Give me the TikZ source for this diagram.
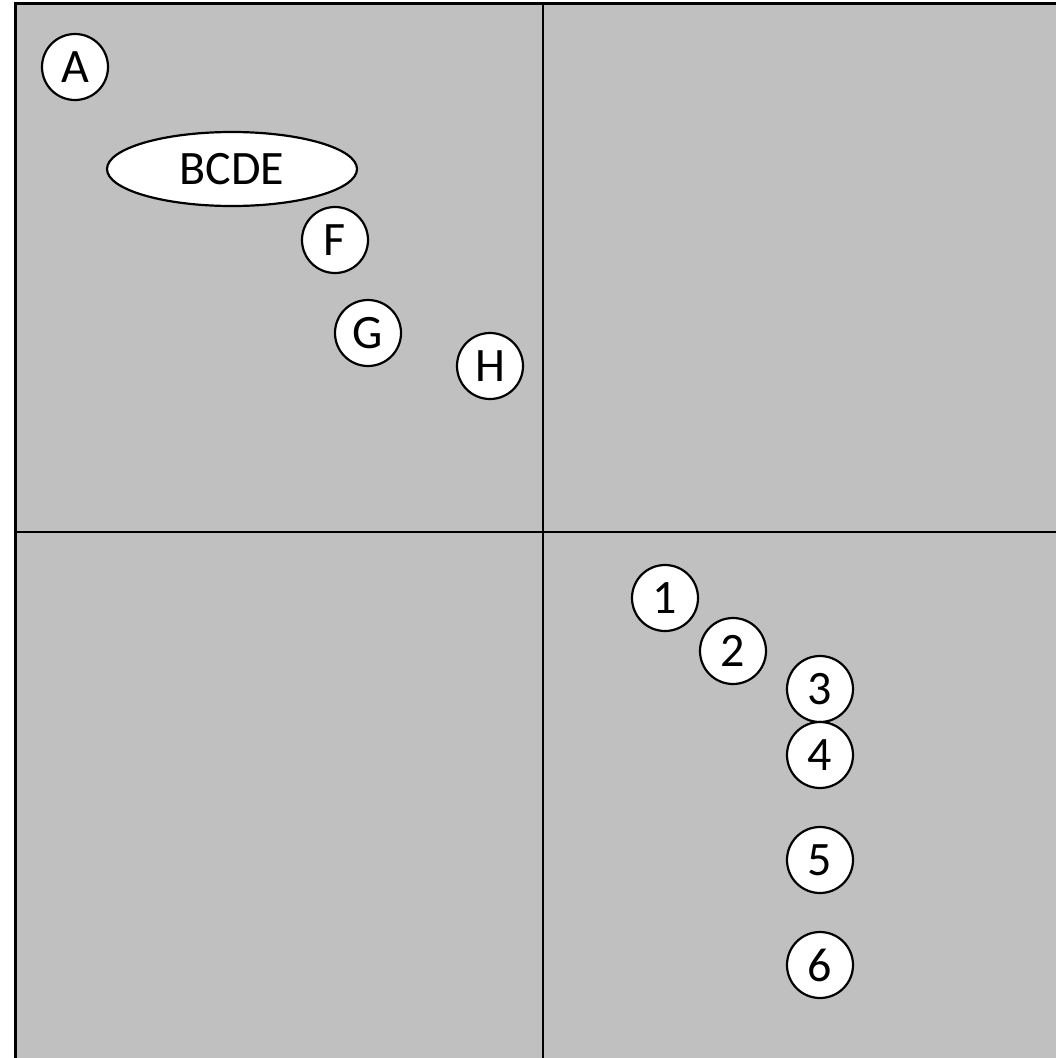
\documentclass[tikz,border=0pt]{standalone}
\usepackage{fontspec}
\setmainfont{Carlito}
\usetikzlibrary{shapes.geometric}
\definecolor{panelgray}{RGB}{192,192,192}
\tikzset{
  circ/.style={circle, draw, fill=white, line width=2.2pt, minimum size=66pt, inner sep=0pt,
    font=\fontsize{48}{56}\selectfont},
  oval/.style={ellipse, draw, fill=white, line width=2.2pt, minimum width=250pt, minimum height=74pt,
    inner sep=0pt, font=\fontsize{48}{56}\selectfont}
}
\begin{document}
\begin{tikzpicture}[x=1pt, y=-1pt]
  \useasboundingbox (0,0) rectangle (1056,1058);
  % panel
  \fill[panelgray] (15,3) rectangle (1056,1058);
  \draw[line width=3pt] (15,1058) -- (15,3) -- (1056,3);
  \draw[line width=1.5pt] (543,3) -- (543,1058);
  \draw[line width=1.5pt] (15,532) -- (1056,532);
  % upper left
  \node[circ] (a) at (75,67) {A};
  \node[oval] (bcde) at (232,169) {BCDE};
  \node[circ] (f) at (335,240) {F};
  \node[circ] (g) at (368,333) {G};
  \node[circ] (h) at (490,366) {H};
  % lower right
  \node[circ] (n1) at (665,598) {1};
  \node[circ] (n2) at (733,651) {2};
  \node[circ] (n3) at (820,689) {3};
  \node[circ] (n4) at (820,755) {4};
  \node[circ] (n5) at (820,860) {5};
  \node[circ] (n6) at (820,965) {6};
\end{tikzpicture}
\end{document}
